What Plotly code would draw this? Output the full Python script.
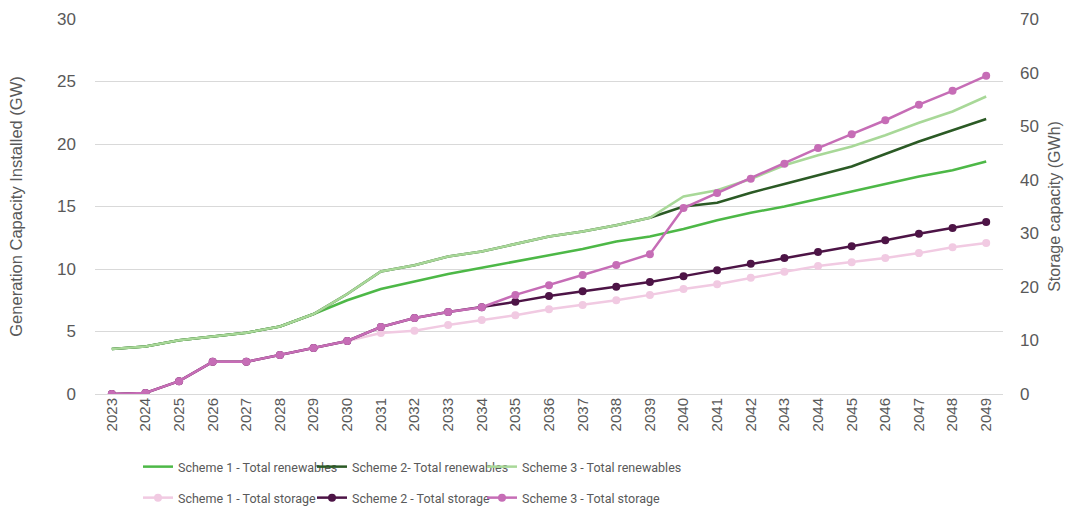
import plotly.graph_objects as go

years = list(range(2023, 2050))

ren_s1 = [3.6, 3.8, 4.3, 4.6, 4.9, 5.4, 6.4, 7.5, 8.4, 9.0, 9.6, 10.1, 10.6, 11.1, 11.6, 12.2, 12.6,
          13.2, 13.9, 14.5, 15.0, 15.6, 16.2, 16.8, 17.4, 17.9, 18.6]
ren_s2 = [3.6, 3.8, 4.3, 4.6, 4.9, 5.4, 6.4, 8.0, 9.8, 10.3, 11.0, 11.4, 12.0, 12.6, 13.0, 13.5, 14.1,
          15.0, 15.3, 16.1, 16.8, 17.5, 18.2, 19.2, 20.2, 21.1, 22.0]
ren_s3 = [3.6, 3.8, 4.3, 4.6, 4.9, 5.4, 6.4, 8.0, 9.8, 10.3, 11.0, 11.4, 12.0, 12.6, 13.0, 13.5, 14.1,
          15.8, 16.3, 17.2, 18.3, 19.1, 19.8, 20.7, 21.7, 22.6, 23.8]

sto_s1 = [0.0, 0.2, 2.4, 6.0, 6.0, 7.3, 8.6, 9.9, 11.4, 11.8, 12.9, 13.8, 14.7, 15.8, 16.6, 17.5, 18.5,
          19.6, 20.5, 21.7, 22.8, 23.9, 24.6, 25.4, 26.3, 27.4, 28.2]
sto_s2 = [0.0, 0.2, 2.4, 6.0, 6.0, 7.3, 8.6, 9.9, 12.5, 14.2, 15.3, 16.2, 17.2, 18.3, 19.2, 20.0, 20.9,
          22.0, 23.1, 24.3, 25.4, 26.5, 27.6, 28.7, 29.9, 31.0, 32.1]
sto_s3 = [0.0, 0.2, 2.4, 6.0, 6.0, 7.3, 8.6, 9.9, 12.5, 14.2, 15.3, 16.2, 18.5, 20.3, 22.2, 24.1, 26.1,
          34.7, 37.5, 40.2, 43.0, 45.9, 48.5, 51.1, 54.0, 56.6, 59.4]

names_ren = ["Scheme 1 - Total renewables", "Scheme 2- Total renewables", "Scheme 3 - Total renewables"]
names_sto = ["Scheme 1 - Total storage", "Scheme 2 - Total storage", "Scheme 3 - Total storage"]
col_ren = ["#4DB847", "#2B5A25", "#A8D898"]
col_sto = ["#F1CAE2", "#4D1446", "#C66DB6"]

FONT = "Roboto, Liberation Sans, sans-serif"
TICKFONT = "Liberation Sans, Arial, sans-serif"
GREY = "#595959"

# legend layout: text start (px) of each column, row baselines (px from top)
col_text_px = [178, 352, 522]
row_top_px = [452, 483]

fig = go.Figure()
legend_ids = ["legend", "legend2", "legend3", "legend4", "legend5", "legend6"]
k = 0
for vals, n, c in zip([ren_s1, ren_s2, ren_s3], names_ren, col_ren):
    fig.add_trace(go.Scatter(x=years, y=vals, name=n, mode="lines",
                             line=dict(color=c, width=2.5), yaxis="y", legend=legend_ids[k]))
    k += 1
for vals, n, c in zip([sto_s1, sto_s2, sto_s3], names_sto, col_sto):
    fig.add_trace(go.Scatter(x=years, y=vals, name=n, mode="lines+markers",
                             line=dict(color=c, width=2.5), marker=dict(size=8, color=c),
                             yaxis="y2", legend=legend_ids[k]))
    k += 1

legends = {}
for i, lid in enumerate(legend_ids):
    row, col = divmod(i, 3)
    legends[lid] = dict(orientation="h", xref="container", yref="container",
                        x=(col_text_px[col] - 40) / 1065, y=1 - row_top_px[row] / 509,
                        xanchor="left", yanchor="top",
                        font=dict(size=12.5, family=FONT, color=GREY),
                        itemwidth=30, bgcolor="rgba(0,0,0,0)")

fig.update_layout(
    width=1065, height=509,
    margin=dict(l=95, r=62, t=19, b=115, autoexpand=False),
    plot_bgcolor="white", paper_bgcolor="white",
    font=dict(family=TICKFONT, color=GREY, size=15),
    xaxis=dict(range=[2022.5, 2049.5], tickmode="array", tickvals=years,
               ticktext=[str(y) for y in years], tickangle=-90,
               showgrid=False, zeroline=False, showline=False, ticks="",
               tickfont=dict(size=15, color=GREY, family=TICKFONT)),
    yaxis=dict(range=[0, 30], dtick=5, showgrid=True, gridcolor="#D9D9D9", gridwidth=1,
               zeroline=True, zerolinecolor="#D9D9D9", zerolinewidth=1,
               title=dict(text="Generation Capacity Installed (GW)", font=dict(size=16.5, color=GREY),
                          standoff=30),
               tickfont=dict(size=17, color=GREY), ticks="", ticklabelstandoff=18),
    yaxis2=dict(range=[0, 70], dtick=10, overlaying="y", side="right", showgrid=False,
                zeroline=False,
                title=dict(text="Storage capacity (GWh)", font=dict(size=16, color=GREY), standoff=10),
                tickfont=dict(size=17, color=GREY), ticks="", ticklabelstandoff=16),
    showlegend=True,
    **legends,
)

fig.write_html("out.html")
